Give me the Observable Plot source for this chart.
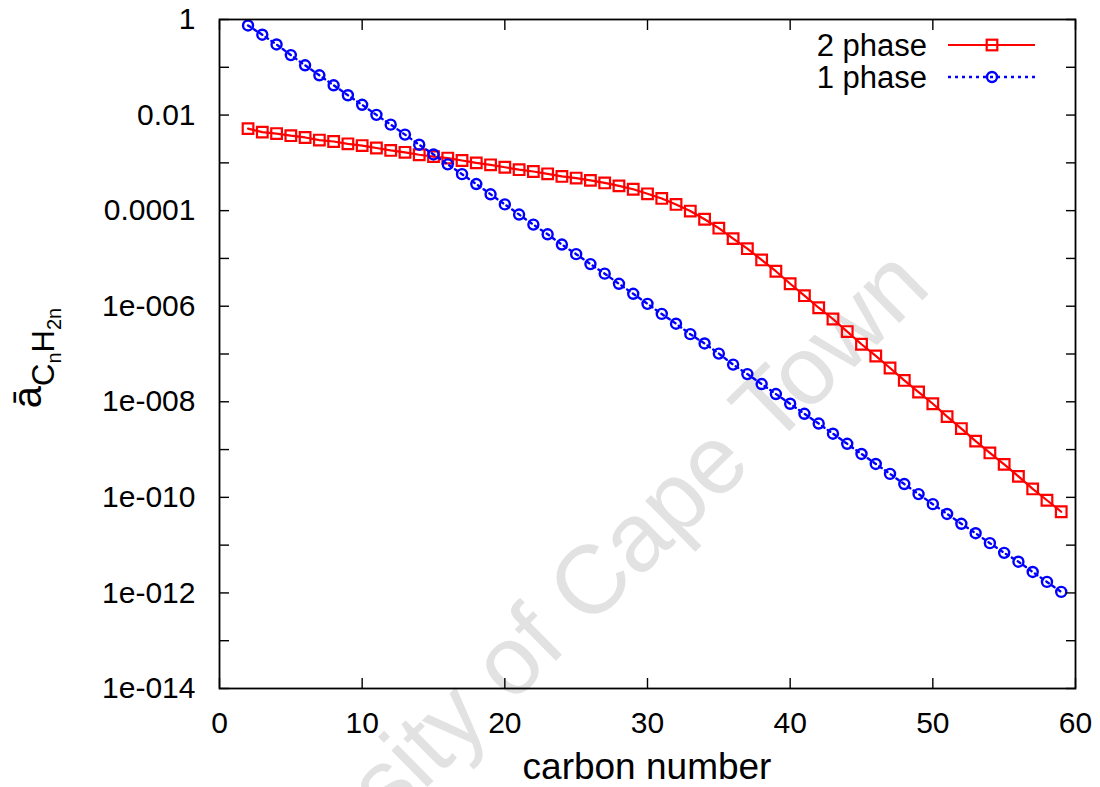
<!DOCTYPE html>
<html>
<head>
<meta charset="utf-8">
<script src="https://cdn.jsdelivr.net/npm/d3@7"></script>
<script src="https://cdn.jsdelivr.net/npm/@observablehq/plot@0.6"></script>
<style>
  html, body { margin: 0; padding: 0; background: #ffffff; }
  #chart { width: 1100px; height: 787px; }
</style>
</head>
<body>
<div id="chart"></div>
<script>
// ---- data ----
const carbonNumber = [2,3,4,5,6,7,8,9,10,11,12,13,14,15,16,17,18,19,20,21,22,23,24,25,26,27,28,29,30,
  31,32,33,34,35,36,37,38,39,40,41,42,43,44,45,46,47,48,49,50,51,52,53,54,55,56,57,58,59];

const twoPhaseValues = [5.2e-3,4.4e-3,4.1e-3,3.7e-3,3.4e-3,3.0e-3,2.8e-3,2.5e-3,2.3e-3,2.05e-3,
  1.82e-3,1.66e-3,1.48e-3,1.35e-3,1.26e-3,1.12e-3,1.0e-3,9.1e-4,8.1e-4,7.2e-4,
  6.6e-4,5.9e-4,5.2e-4,4.8e-4,4.3e-4,3.8e-4,3.3e-4,2.8e-4,2.25e-4,1.8e-4,
  1.35e-4,9.8e-5,6.6e-5,4.3e-5,2.6e-5,1.6e-5,9.3e-6,5.4e-6,2.95e-6,1.66e-6,
  9.3e-7,5.4e-7,2.95e-7,1.6e-7,9.1e-8,5.1e-8,2.8e-8,1.6e-8,9.1e-9,4.9e-9,
  2.75e-9,1.5e-9,8.5e-10,4.9e-10,2.75e-10,1.5e-10,8.7e-11,5.0e-11];

const onePhaseValues = [0.75,0.48,0.30,0.18,0.11,0.068,0.042,0.026,0.0164,0.0101,
  6.3e-3,3.9e-3,2.4e-3,1.5e-3,9.3e-4,5.8e-4,3.6e-4,2.2e-4,1.35e-4,8.3e-5,
  5.1e-5,3.2e-5,1.95e-5,1.23e-5,7.6e-6,4.8e-6,2.95e-6,1.82e-6,1.12e-6,6.9e-7,
  4.3e-7,2.6e-7,1.66e-7,1.02e-7,6.0e-8,3.8e-8,2.35e-8,1.45e-8,9.1e-9,5.6e-9,
  3.5e-9,2.15e-9,1.32e-9,8.1e-10,5.0e-10,3.1e-10,1.9e-10,1.17e-10,7.2e-11,4.5e-11,
  2.8e-11,1.78e-11,1.1e-11,6.9e-12,4.5e-12,2.75e-12,1.7e-12,1.05e-12];

const seriesNames = ["2 phase", "1 phase"];
const xTicks = [0,10,20,30,40,50,60];
const yTicks = [1,1e-1,1e-2,1e-3,1e-4,1e-5,1e-6,1e-7,1e-8,1e-9,1e-10,1e-11,1e-12,1e-13,1e-14];
const yLabelTicks = [1,1e-2,1e-4,1e-6,1e-8,1e-10,1e-12,1e-14];
const yTickLabels = ["1","0.01","0.0001","1e-006","1e-008","1e-010","1e-012","1e-014"];
const xLabel = "carbon number";
const watermark = "University of Cape Town";

// ---- build ----
const twoPhase = carbonNumber.map((n, i) => ({n, v: twoPhaseValues[i]}));
const onePhase = carbonNumber.map((n, i) => ({n, v: onePhaseValues[i]}));
const yLabelMap = new Map(yLabelTicks.map((t, i) => [t, yTickLabels[i]]));
const FONT = "'Liberation Sans', Arial, Helvetica, sans-serif";

const chart = Plot.plot({
  width: 1100,
  height: 787,
  marginLeft: 219,
  marginRight: 25,
  marginTop: 19,
  marginBottom: 99,
  style: {fontFamily: FONT, fontSize: "30px", color: "#000", background: "#fff"},
  x: {domain: [0, 60]},
  y: {type: "log", domain: [1e-14, 1]},
  marks: [
    Plot.line(twoPhase, {x: "n", y: "v", stroke: "#ff0000", strokeWidth: 2.2}),
    Plot.dot(twoPhase, {x: "n", y: "v", symbol: "square", r: 6, stroke: "#ff0000", strokeWidth: 2.2, fill: "none"}),
    Plot.line(onePhase, {x: "n", y: "v", stroke: "#0000ff", strokeWidth: 2.4, strokeDasharray: "3,4"}),
    Plot.dot(onePhase, {x: "n", y: "v", symbol: "circle", r: 5, stroke: "#0000ff", strokeWidth: 2.4, fill: "none"}),
    Plot.frame({stroke: "#000", strokeWidth: 1.8}),
    Plot.axisX({ticks: xTicks, tickSize: 0, tickPadding: 23, label: null, fontSize: 30}),
    Plot.axisX({ticks: xTicks, tickSize: -10, tickFormat: () => "", label: null, strokeWidth: 1.4}),
    Plot.axisX({ticks: xTicks, anchor: "top", tickSize: -10, tickFormat: () => "", label: null, strokeWidth: 1.4}),
    Plot.axisY({ticks: yLabelTicks, tickSize: 0, tickPadding: 24, tickFormat: d => yLabelMap.get(d), label: null, fontSize: 30}),
    Plot.axisY({ticks: yTicks, tickSize: -10, tickFormat: () => "", label: null, strokeWidth: 1.4}),
    Plot.axisY({ticks: yTicks, anchor: "right", tickSize: -10, tickFormat: () => "", label: null, strokeWidth: 1.4})
  ]
});

const svg = d3.select(chart);
const xs = chart.scale("x");
const cx = (xs.range[0] + xs.range[1]) / 2;

// watermark (behind everything)
svg.insert("text", "g")
  .attr("transform", "translate(933,290) rotate(-44.5)")
  .attr("text-anchor", "end")
  .attr("font-family", FONT)
  .attr("font-size", 97)
  .attr("fill", "#e2e2e2")
  .text(watermark);

// x label
svg.append("text")
  .attr("x", cx).attr("y", 779)
  .attr("text-anchor", "middle")
  .attr("font-family", FONT)
  .attr("font-size", 37)
  .attr("fill", "#000")
  .text(xLabel);

// y label: ā_{C_n H_{2n}}
const yl = svg.append("text")
  .attr("transform", "translate(41,358) rotate(-90)")
  .attr("text-anchor", "middle")
  .attr("font-family", FONT)
  .attr("font-size", 40)
  .attr("fill", "#000");
yl.append("tspan").text("ā");
yl.append("tspan").attr("font-size", 31).attr("dy", 12.5).text("C");
yl.append("tspan").attr("font-size", 20).attr("dy", 7).text("n");
yl.append("tspan").attr("font-size", 31).attr("dy", -7).text("H");
yl.append("tspan").attr("font-size", 20).attr("dy", 7).text("2n");

// legend
const leg = svg.append("g").attr("font-family", FONT).attr("font-size", 31);
const legRows = [
  {name: seriesNames[0], y: 45, color: "#ff0000", dash: null, sym: "square"},
  {name: seriesNames[1], y: 77, color: "#0000ff", dash: "3,4", sym: "circle"}
];
legRows.forEach(r => {
  leg.append("text").attr("x", 927).attr("y", r.y + 11).attr("text-anchor", "end").attr("fill", "#000").text(r.name);
  const ln = leg.append("line").attr("x1", 948).attr("x2", 1035).attr("y1", r.y).attr("y2", r.y)
    .attr("stroke", r.color).attr("stroke-width", r.dash ? 2.4 : 2.2);
  if (r.dash) ln.attr("stroke-dasharray", r.dash);
  if (r.sym === "square") {
    leg.append("rect").attr("x", 992 - 5.3).attr("y", r.y - 5.3).attr("width", 10.6).attr("height", 10.6)
      .attr("fill", "none").attr("stroke", r.color).attr("stroke-width", 2.2);
  } else {
    leg.append("circle").attr("cx", 992).attr("cy", r.y).attr("r", 5)
      .attr("fill", "none").attr("stroke", r.color).attr("stroke-width", 2.4);
  }
});

document.getElementById("chart").appendChild(chart);
</script>
</body>
</html>
